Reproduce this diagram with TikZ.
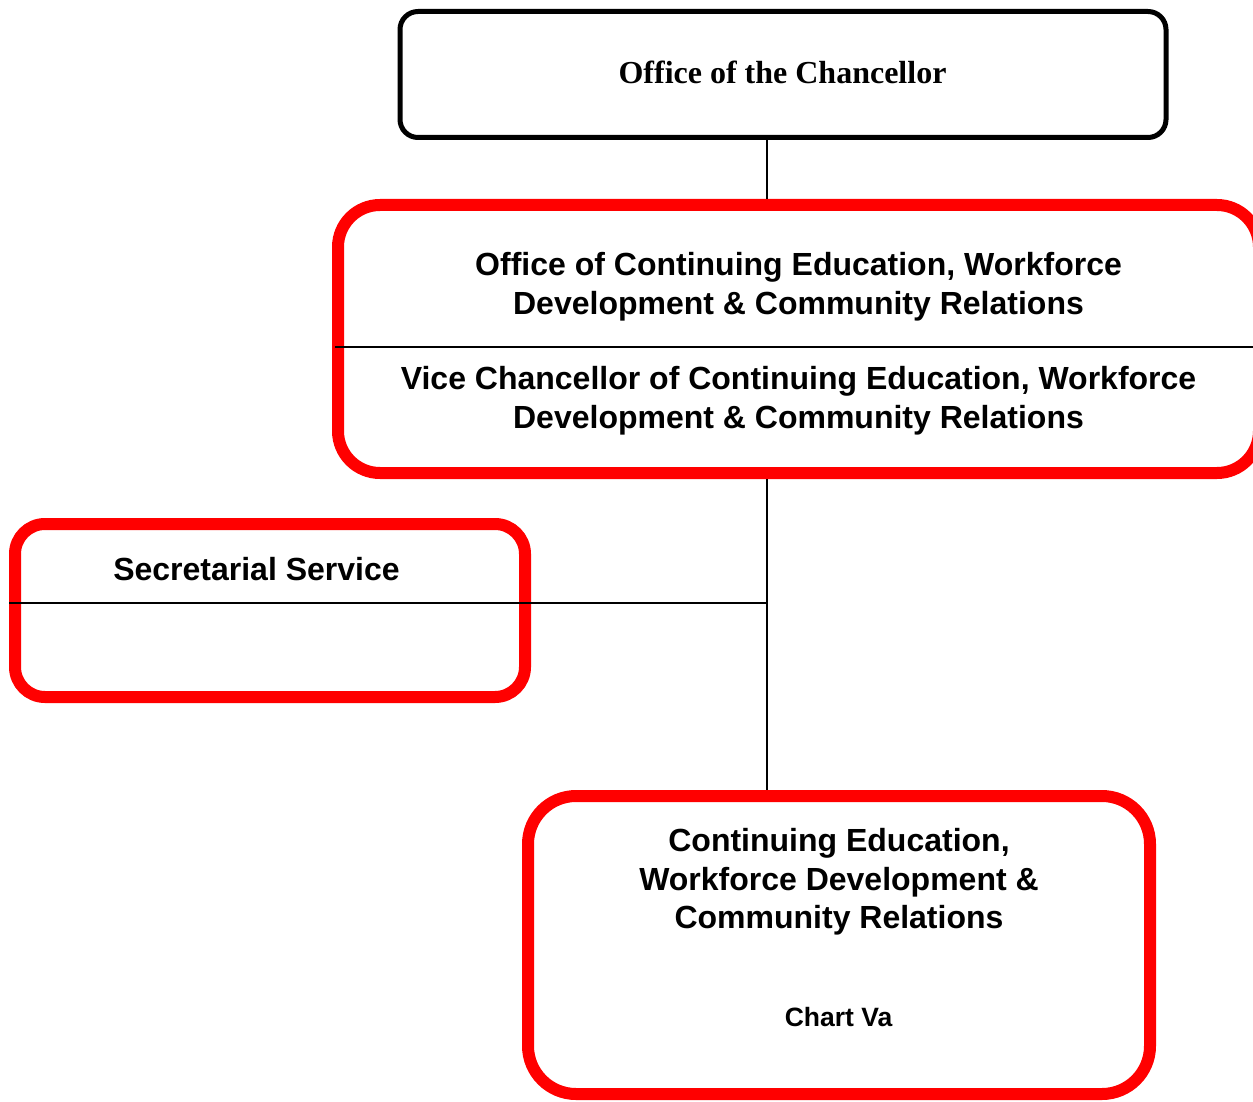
\documentclass[tikz,border=0pt]{standalone}
\usepackage{fontspec}
\setmainfont{Liberation Sans}
\newfontfamily\titleserif{Liberation Serif}
\usetikzlibrary{positioning}
\definecolor{chartred}{RGB}{255,0,0}

\begin{document}
\begin{tikzpicture}[x=1pt, y=-1pt,
    office/.style={draw=chartred, line width=12pt, rounded corners=#1},
    office/.default=40pt,
    chancellor/.style={draw=black, line width=5pt, rounded corners=18pt},
    unittext/.style={font=\fontsize{32}{38.5}\selectfont\bfseries, align=center, inner sep=0pt},
    link/.style={line width=1.5pt}]
    \useasboundingbox (0,0) rectangle (1253,1102);

    % boxes
    \node[chancellor, minimum width=766pt, minimum height=126pt] (chan) at (783,74.5) {};
    \node[office=42pt, minimum width=921pt, minimum height=268pt] (cewd) at (798.5,339) {};
    \node[office=30pt, minimum width=510pt, minimum height=173pt] (sec) at (270,610.5) {};
    \node[office=48pt, minimum width=622pt, minimum height=298pt] (ce) at (839,945) {};

    % texts
    \node[inner sep=0pt, font=\titleserif\fontsize{32}{38}\selectfont\bfseries] (channame) at (782.5,72.5)
        {Office of the Chancellor};
    \node[unittext] (cewdname) at (798.5,286.5)
        {Office of Continuing Education, Workforce\\Development \& Community Relations};
    \node[unittext] (vchan) at (798.5,400.5)
        {Vice Chancellor of Continuing Education, Workforce\\Development \& Community Relations};
    \node[unittext] (secname) at (256.5,569.5) {Secretarial Service};
    \node[unittext] (cename) at (839,882)
        {Continuing Education,\\Workforce Development \&\\Community Relations};
    \node[unittext, font=\fontsize{26.5}{30}\selectfont\bfseries] (chart) at (838.5,1017.5) {Chart Va};

    % lines
    \coordinate (spine) at (767,0);
    \coordinate (divider) at (335,347);
    \coordinate (tee) at (767,603);
    \draw[link] (divider) -- (cewd.east |- divider);
    \draw[link] (spine |- chan.south) -- (spine |- cewd.north);
    \draw[link] (spine |- cewd.south) -- (spine |- ce.north);
    \draw[link] (sec.west |- tee) -- (tee);
\end{tikzpicture}
\end{document}
